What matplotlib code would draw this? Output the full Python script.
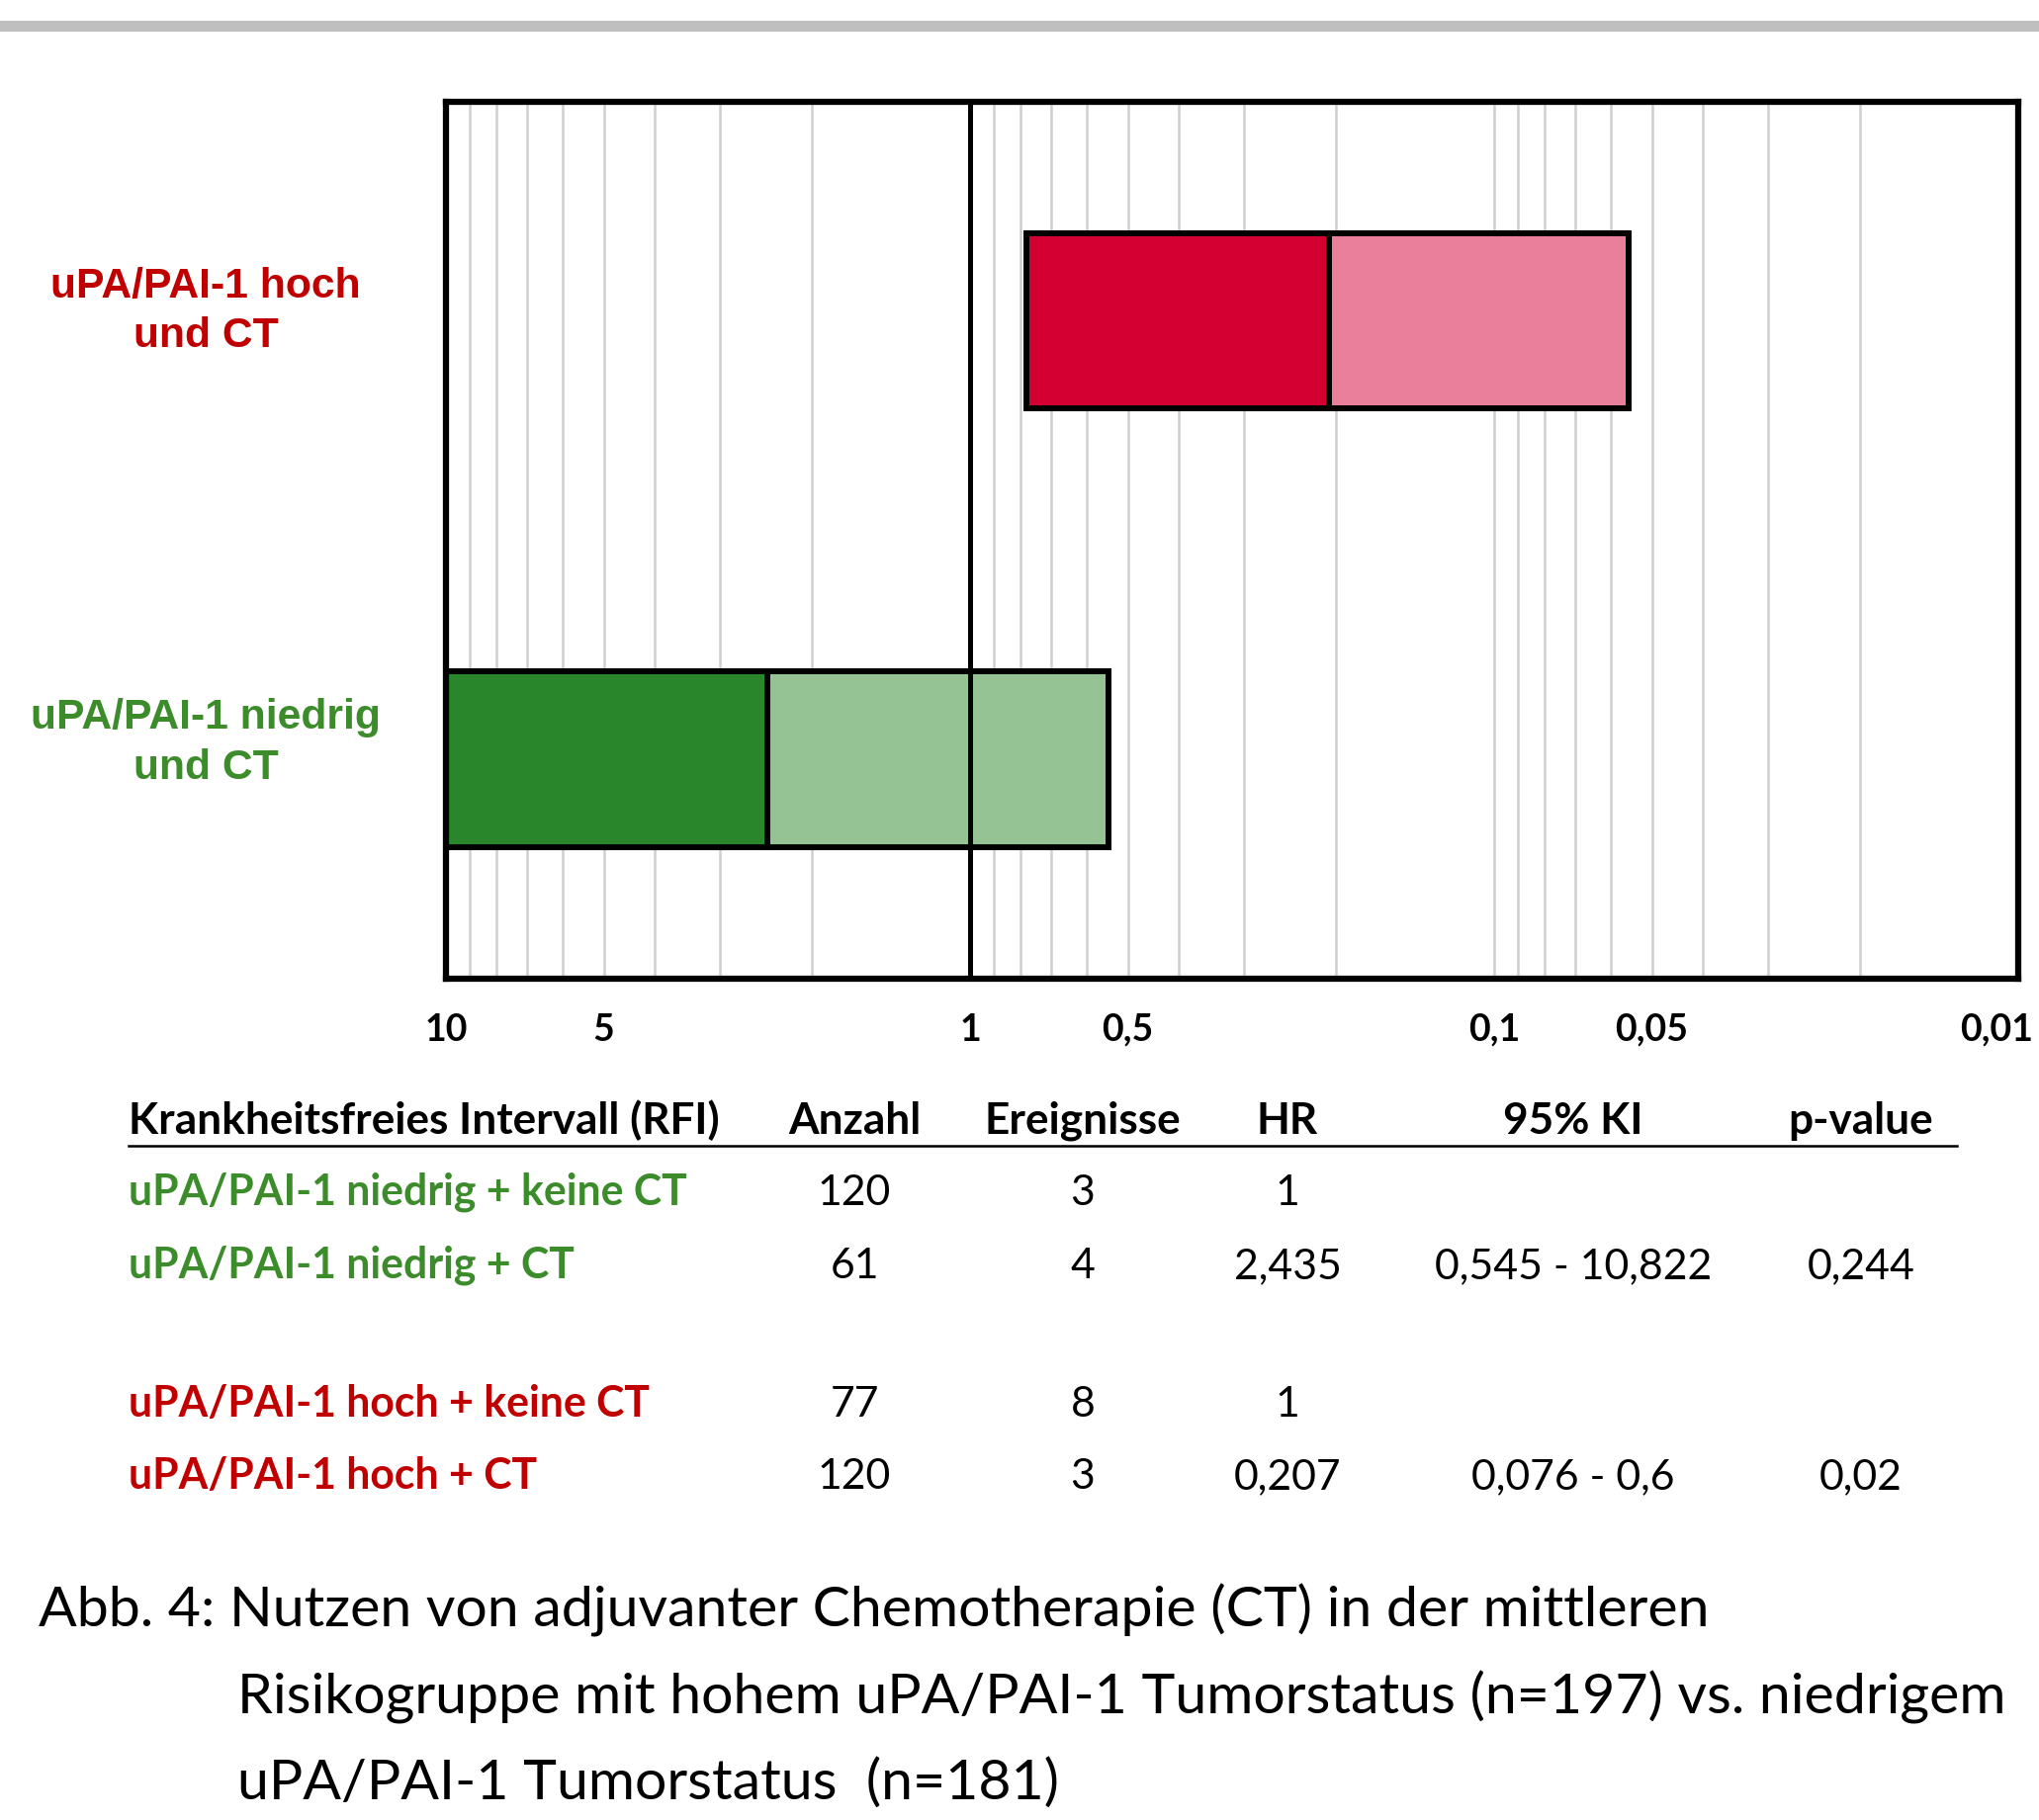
import matplotlib
matplotlib.use("Agg")
import matplotlib.pyplot as plt
import matplotlib.transforms as mtransforms
from matplotlib.patches import Rectangle
from matplotlib.lines import Line2D

# forest plot data (HR, bar ends as drawn in the figure)
groups = ['uPA/PAI-1 niedrig\nund CT', 'uPA/PAI-1 hoch\nund CT']
group_colors = ['#3C8C2C', '#C00000']
dark_colors = ['#2A862A', '#D50032']
light_colors = ['#96C394', '#E97F9B']
bar_hr = [2.435, 0.207]
bar_outer = [10.822, 0.78]
bar_inner = [0.545, 0.0554]

tick_values = [10, 5, 1, 0.5, 0.1, 0.05, 0.01]
tick_labels = ['10', '5', '1', '0,5', '0,1', '0,05', '0,01']

# table
header = ['Krankheitsfreies Intervall (RFI)', 'Anzahl', 'Ereignisse', 'HR', '95% KI', 'p-value']
row_labels = ['uPA/PAI-1 niedrig + keine CT', 'uPA/PAI-1 niedrig + CT',
              'uPA/PAI-1 hoch + keine CT', 'uPA/PAI-1 hoch + CT']
row_colors = ['#3C8C2C', '#3C8C2C', '#C00000', '#C00000']
anzahl = [120, 61, 77, 120]
ereignisse = [3, 4, 8, 3]
hr_values = [1, 2.435, 1, 0.207]
ki = ['', '0,545 - 10,822', '', '0,076 - 0,6']
p_values = ['', '0,244', '', '0,02']

caption = ['Abb. 4: Nutzen von adjuvanter Chemotherapie (CT) in der mittleren',
           'Risikogruppe mit hohem uPA/PAI-1 Tumorstatus (n=197) vs. niedrigem',
           'uPA/PAI-1 Tumorstatus  (n=181)']

W, H = 2062, 1841


def fx(px):
    return px / W


def fy(py):
    return 1 - py / H


fig = plt.figure(figsize=(W / 100, H / 100), dpi=100)
fig.add_artist(Rectangle((0, fy(32)), 1, 11.5 / H, transform=fig.transFigure,
                         color='#BFBFBF', lw=0))

ax = fig.add_axes([fx(451), fy(990), fx(2041 - 451), (990 - 102.5) / H])
ax.set_xscale('log')
ax.set_xlim(10, 0.01)
ax.set_ylim(0, 5)

ypos = [1.25, 3.75]
for i in range(len(groups)):
    ax.barh(ypos[i], bar_hr[i] - bar_outer[i], left=bar_outer[i], height=1,
            color=dark_colors[i], edgecolor='black', linewidth=4.3, zorder=2)
    ax.barh(ypos[i], bar_inner[i] - bar_hr[i], left=bar_hr[i], height=1,
            color=light_colors[i], edgecolor='black', linewidth=4.3, zorder=2)
ax.axvline(1, color='black', lw=3.6, zorder=3)

minor = [k * d for d in (1, 0.1, 0.01) for k in range(2, 10)]
ax.set_xticks(tick_values)
ax.set_xticks(minor, minor=True)
ax.set_xticklabels(tick_labels, fontfamily='Lato', fontweight='bold', fontsize=27)
ax.xaxis.set_minor_formatter(plt.NullFormatter())
ax.tick_params(axis='x', which='both', length=0, pad=25)
ax.set_yticks([])
ax.set_axisbelow(True)
ax.grid(True, which='both', axis='x', color='#CFCFCF', lw=1.8)
for sp in ax.spines.values():
    sp.set_linewidth(4.5)
    sp.set_zorder(5)

# nudge the last tick label so it stays inside the figure
last = ax.get_xticklabels()[-1]
last.set_transform(last.get_transform() +
                   mtransforms.ScaledTranslation(-0.22, 0, fig.dpi_scale_trans))

# group labels on the left
label_base = [(737, 788), (301, 351)]
for i, g in enumerate(groups):
    for line, base in zip(g.split('\n'), label_base[i]):
        fig.text(fx(208), fy(base), line, ha='center', va='baseline',
                 fontfamily='Liberation Sans', fontweight='bold', fontsize=30.7,
                 color=group_colors[i])

# table
col_x = [130, 864, 1095, 1302, 1591, 1882]
fig.text(fx(col_x[0]), fy(1147), header[0], ha='left', va='baseline',
         fontfamily='Lato', fontweight='bold', fontsize=31.8)
for x, h in zip(col_x[1:], header[1:]):
    fig.text(fx(x), fy(1147), h, ha='center', va='baseline',
             fontfamily='Lato', fontweight='bold', fontsize=31.8)
fig.add_artist(Line2D([fx(130), fx(1979)], [fy(1159), fy(1159)],
                      transform=fig.transFigure, color='black', lw=1.8))

row_base = [1219, 1293, 1433, 1506]
for r in range(len(row_labels)):
    yb = fy(row_base[r])
    fig.text(fx(col_x[0]), yb, row_labels[r], ha='left', va='baseline',
             fontfamily='Lato', fontweight='bold', fontsize=30.8, color=row_colors[r])
    cells = [str(anzahl[r]), str(ereignisse[r]), f'{hr_values[r]:g}'.replace('.', ','),
             ki[r], p_values[r]]
    for x, c in zip(col_x[1:], cells):
        fig.text(fx(x), yb, c, ha='center', va='baseline',
                 fontfamily='Lato', fontsize=30.8)

# caption
cap_pos = [(39, 1645), (240, 1733), (240, 1820)]
for (x, yb), line in zip(cap_pos, caption):
    fig.text(fx(x), fy(yb), line, ha='left', va='baseline',
             fontfamily='Lato', fontsize=41.2)

fig.savefig('out.png', dpi=100)
